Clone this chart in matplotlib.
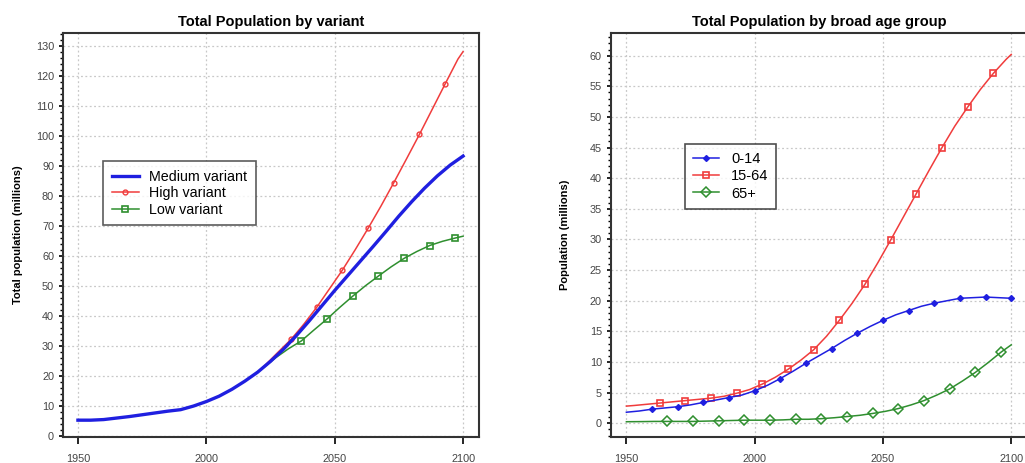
import matplotlib
matplotlib.use("Agg")
import matplotlib.pyplot as plt
from matplotlib.ticker import MultipleLocator

plt.rcParams['font.family'] = ['Liberation Sans', 'DejaVu Sans']

# ---- Left panel data: total population by variant ----
medium_years = [1950, 1955, 1960, 1965, 1970, 1975, 1980, 1985, 1990, 1995, 2000,
                2005, 2010, 2015, 2020, 2025, 2030, 2035, 2040, 2045, 2050, 2055,
                2060, 2065, 2070, 2075, 2080, 2085, 2090, 2095, 2100]
medium_vals = [5.2, 5.2, 5.4, 5.9, 6.4, 7.0, 7.6, 8.2, 8.7, 9.9, 11.4,
               13.2, 15.5, 18.2, 21.2, 24.8, 28.8, 33.3, 38.2, 43.3, 48.4, 53.3,
               58.2, 63.1, 68.1, 73.2, 78.0, 82.5, 86.6, 90.2, 93.2]

high_years = [2020, 2023, 2028, 2033, 2038, 2043, 2048, 2053, 2058, 2063, 2068,
              2073, 2078, 2083, 2088, 2093, 2098, 2100]
high_vals = [21.2, 23.6, 27.9, 32.1, 37.2, 42.8, 49.0, 55.2, 62.0, 69.1, 76.5,
             84.3, 92.3, 100.4, 108.8, 117.2, 125.5, 128.0]

low_years = [2020, 2022, 2027, 2032, 2037, 2042, 2047, 2052, 2057, 2062, 2067,
             2072, 2077, 2082, 2087, 2092, 2097, 2100]
low_vals = [21.2, 22.5, 26.0, 29.0, 31.6, 35.3, 38.9, 42.8, 46.5, 50.0, 53.2,
            56.3, 59.1, 61.4, 63.4, 64.8, 65.9, 66.5]

# ---- Right panel data: population by broad age group ----
a014_years = [1950, 1955, 1960, 1965, 1970, 1975, 1980, 1985, 1990, 1995, 2000,
              2005, 2010, 2015, 2020, 2025, 2030, 2035, 2040, 2045, 2050, 2055,
              2060, 2065, 2070, 2075, 2080, 2085, 2090, 2095, 2100]
a014_vals = [1.8, 2.0, 2.3, 2.5, 2.7, 3.0, 3.4, 3.8, 4.2, 4.6, 5.3,
             6.2, 7.3, 8.5, 9.8, 11.0, 12.2, 13.5, 14.7, 15.8, 16.8, 17.7,
             18.4, 19.1, 19.6, 20.0, 20.4, 20.5, 20.6, 20.5, 20.4]

a1564_years = [1950, 1953, 1958, 1963, 1968, 1973, 1978, 1983, 1988, 1993, 1998,
               2003, 2008, 2013, 2018, 2023, 2028, 2033, 2038, 2043, 2048, 2053,
               2058, 2063, 2068, 2073, 2078, 2083, 2088, 2093, 2098, 2100]
a1564_vals = [2.8, 2.9, 3.1, 3.3, 3.5, 3.7, 3.9, 4.1, 4.4, 4.9, 5.5,
              6.4, 7.5, 8.8, 10.3, 12.0, 14.2, 16.8, 19.6, 22.7, 26.2, 29.9,
              33.7, 37.5, 41.3, 45.0, 48.5, 51.6, 54.5, 57.1, 59.4, 60.2]

a65_years = [1950, 1956, 1961, 1966, 1971, 1976, 1981, 1986, 1991, 1996, 2001,
             2006, 2011, 2016, 2021, 2026, 2031, 2036, 2041, 2046, 2051, 2056,
             2061, 2066, 2071, 2076, 2081, 2086, 2091, 2096, 2100]
a65_vals = [0.25, 0.27, 0.3, 0.3, 0.3, 0.3, 0.35, 0.4, 0.45, 0.5, 0.5,
            0.5, 0.55, 0.65, 0.65, 0.75, 0.9, 1.1, 1.3, 1.6, 1.95, 2.4,
            3.0, 3.7, 4.6, 5.6, 6.9, 8.3, 9.9, 11.6, 12.8]

xticks = [1950, 2000, 2050, 2100]

BLUE = '#1f1fe0'
RED = '#f03c3c'
GREEN = '#2f8f2f'
TICKC = '#444444'

fig = plt.figure(figsize=(10.25, 4.63), dpi=100)
axL = fig.add_axes([0.0615, 0.0562, 0.4058, 0.8725])
axR = fig.add_axes([0.5961, 0.0562, 0.4060, 0.8725])


def style(ax, major, minor):
    ax.set_xticks(xticks)
    ax.yaxis.set_major_locator(MultipleLocator(major))
    ax.yaxis.set_minor_locator(MultipleLocator(minor))
    ax.tick_params(axis='both', which='major', labelsize=7.8, labelcolor=TICKC,
                   direction='out', length=5, width=1.2, color='black')
    ax.tick_params(axis='y', which='major', length=3)
    ax.tick_params(axis='y', which='minor', direction='out', length=2.5,
                   width=1.0, color='black')
    ax.tick_params(axis='x', pad=7)
    for s in ax.spines.values():
        s.set_color('#333333')
        s.set_linewidth(1.5)
    ax.grid(True, which='major', color='#c8c8c8', linestyle=(0, (1.5, 2.0)),
            linewidth=0.9)
    ax.set_axisbelow(True)


def every(n, start, stop):
    return list(range(start, min(stop, n - 1) + 1, 2))


# Left panel
axL.plot(high_years, high_vals, color=RED, lw=1.1, marker='o', markersize=3.5,
         markerfacecolor='none', markeredgewidth=1.0,
         markevery=every(len(high_years), 3, 15),
         label='High variant', zorder=2)
axL.plot(low_years, low_vals, color=GREEN, lw=1.1, marker='s', markersize=5,
         markerfacecolor='none', markeredgewidth=1.2,
         markevery=every(len(low_years), 4, 16),
         label='Low variant', zorder=2)
axL.plot(medium_years, medium_vals, color=BLUE, lw=2.4, label='Medium variant',
         zorder=3)
axL.set_xlim(1944.2, 2106.2)
axL.set_ylim(-0.4, 134.2)
style(axL, 10, 2)
axL.set_title('Total Population by variant', fontsize=10.5, fontweight='bold',
              pad=5)
axL.set_ylabel('Total population (millions)', fontsize=8, fontweight='bold',
               labelpad=9)
h, l = axL.get_legend_handles_labels()
order = [2, 0, 1]
legL = axL.legend([h[i] for i in order], [l[i] for i in order],
                  loc='upper left', bbox_to_anchor=(0.096, 0.683),
                  fontsize=10.3, frameon=True, fancybox=False, handlelength=1.9,
                  borderpad=0.6, labelspacing=0.18, handletextpad=0.75,
                  borderaxespad=0)
legL.get_frame().set_edgecolor('#333333')
legL.get_frame().set_linewidth(1.2)

# Right panel
axR.plot(a014_years, a014_vals, color=BLUE, lw=1.1, marker='D', markersize=3,
         markevery=every(len(a014_years), 2, 30), label='0-14', zorder=3)
axR.plot(a1564_years, a1564_vals, color=RED, lw=1.1, marker='s', markersize=5,
         markerfacecolor='none', markeredgewidth=1.2,
         markevery=every(len(a1564_years), 3, 29), label='15-64', zorder=2)
axR.plot(a65_years, a65_vals, color=GREEN, lw=1.1, marker='D', markersize=5,
         markerfacecolor='none', markeredgewidth=1.1,
         markevery=every(len(a65_years), 3, 29), label='65+', zorder=2)
axR.set_xlim(1944.0, 2106.2)
axR.set_ylim(-2.24, 63.7)
style(axR, 5, 1)
axR.set_title('Total Population by broad age group', fontsize=10.5,
              fontweight='bold', pad=5)
axR.set_ylabel('Population (millions)', fontsize=8, fontweight='bold',
               labelpad=14)
legR = axR.legend(loc='upper left', bbox_to_anchor=(0.178, 0.725),
                  fontsize=10.5, frameon=True, fancybox=False, handlelength=1.75,
                  borderpad=0.55, labelspacing=0.22, handletextpad=0.85,
                  borderaxespad=0)
legR.get_frame().set_edgecolor('#222222')
legR.get_frame().set_linewidth(1.2)

fig.savefig('out.png', dpi=100)
